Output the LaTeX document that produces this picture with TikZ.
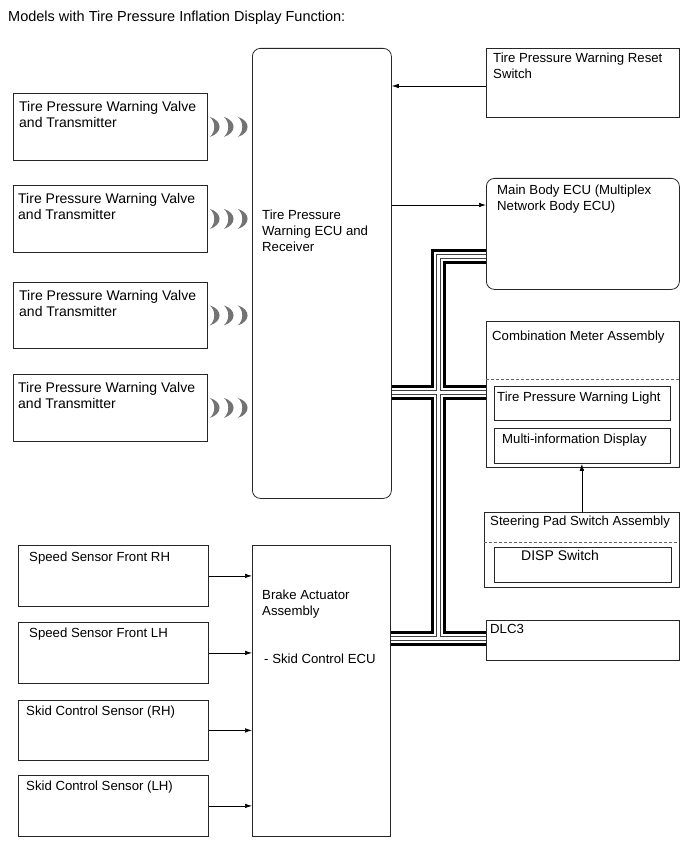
\documentclass[tikz,border=0pt]{standalone}
\usepackage{fontspec}
\setmainfont{Liberation Sans}
\usetikzlibrary{arrows.meta}

\begin{document}
\begin{tikzpicture}[x=1pt, y=-1pt,
    font=\fontsize{13.2}{16}\selectfont,
    box/.style={draw=black!85, line width=0.8pt, anchor=north west, inner sep=0pt},
    txt/.style={anchor=north west, inner sep=0pt, align=left},
    vtxt/.style={txt, font=\fontsize{14}{16.5}\selectfont},
    arr/.style={-{Latex[length=7pt,width=4.5pt]}, line width=0.7pt},
    wave/.style={fill=black!55},
    sep/.style={draw=black!60, dash pattern=on 3pt off 2pt, line width=0.7pt}]

    \useasboundingbox (0,0) rectangle (690,853);

    \node[txt, font=\fontsize{14.5}{17}\selectfont] (title) at (8,11)
    {Models with Tire Pressure Inflation Display Function:};

    \node[box, minimum width=139pt, minimum height=450pt, rounded corners=8pt] (ecu) at (252,48) {};
    \node[txt] (t-ecu) at (262,210) {Tire Pressure\\Warning ECU and\\Receiver};

    \node[box, minimum width=194pt, minimum height=67pt] (v1) at (13,93) {};
    \node[box, minimum width=194pt, minimum height=67pt] (v2) at (13,185) {};
    \node[box, minimum width=194pt, minimum height=66pt] (v3) at (13,282) {};
    \node[box, minimum width=194pt, minimum height=67pt] (v4) at (13,374) {};
    \node[vtxt] (t-v1) at (19,101) {Tire Pressure Warning Valve\\and Transmitter};
    \node[vtxt] (t-v2) at (18,193) {Tire Pressure Warning Valve\\and Transmitter};
    \node[vtxt] (t-v3) at (19,290) {Tire Pressure Warning Valve\\and Transmitter};
    \node[vtxt] (t-v4) at (18,382) {Tire Pressure Warning Valve\\and Transmitter};

    \foreach \v in {v1,v2,v3,v4}
      \foreach \dx in {2,16,30}
        \fill[wave, shift={(\v.east)}, xshift=\dx]
        (0,-10) .. controls (13,-6) and (13,6) .. (0,10)
        .. controls (6,5) and (6,-5) .. (0,-10);

    \node[box, minimum width=193pt, minimum height=69pt] (reset) at (486,48) {};
    \node[txt] (t-reset) at (493,53) {Tire Pressure Warning Reset\\Switch};

    \node[box, minimum width=193pt, minimum height=111pt, rounded corners=8pt] (mbecu) at (486,178) {};
    \node[txt] (t-mbecu) at (497,185) {Main Body ECU (Multiplex\\Network Body ECU)};

    \node[box, minimum width=193pt, minimum height=146pt] (comb) at (486,321) {};
    \node[txt] (t-comb) at (492,331) {Combination Meter Assembly};
    \draw[sep] (486,379) -- (679,379);
    \node[box, minimum width=176pt, minimum height=34pt] (tpwl) at (494,386) {};
    \node[txt] (t-tpwl) at (497,392) {Tire Pressure Warning Light};
    \node[box, minimum width=176pt, minimum height=35pt] (mid) at (494,428) {};
    \node[txt] (t-mid) at (502,434) {Multi-information Display};

    \node[box, minimum width=195pt, minimum height=75pt] (steer) at (484,512) {};
    \node[txt] (t-steer) at (490,516) {Steering Pad Switch Assembly};
    \draw[sep] (484,542) -- (679,542);
    \node[box, minimum width=177pt, minimum height=35pt] (disp) at (494,547) {};
    \node[txt, font=\fontsize{14}{16}\selectfont] (t-disp) at (521,550) {DISP Switch};

    \node[box, minimum width=193pt, minimum height=40pt] (dlc) at (486,620) {};
    \node[txt] (t-dlc) at (490,624) {DLC3};

    \node[box, minimum width=138pt, minimum height=291pt] (brake) at (252,545) {};
    \node[txt] (t-brake) at (262,590) {Brake Actuator\\Assembly\\[32pt]\hspace{2pt}- Skid Control ECU};

    \node[box, minimum width=190pt, minimum height=61pt] (s1) at (18,545) {};
    \node[box, minimum width=190pt, minimum height=61pt] (s2) at (18,622) {};
    \node[box, minimum width=190pt, minimum height=60pt] (s3) at (18,700) {};
    \node[box, minimum width=190pt, minimum height=61pt] (s4) at (18,775) {};
    \node[txt] (t-s1) at (29,552) {Speed Sensor Front RH};
    \node[txt] (t-s2) at (29,628) {Speed Sensor Front LH};
    \node[txt] (t-s3) at (26,706) {Skid Control Sensor (RH)};
    \node[txt] (t-s4) at (26,781) {Skid Control Sensor (LH)};

    \coordinate (yreset) at (0,86);
    \coordinate (ymain) at (0,205);
    \draw[arr] (reset.west |- yreset) -- (ecu.east |- yreset);
    \draw[arr] (ecu.east |- ymain) -- (mbecu.west |- ymain);
    \draw[arr] (steer.north) -- (steer.north |- mid.south);
    \foreach \s in {s1,s2,s3,s4}
      \draw[arr] (\s.east) -- (\s.east -| brake.west);

    \coordinate (btop) at (438,256);
    \coordinate (bmid) at (438,392);
    \coordinate (bbot) at (438,638);
    \foreach \w/\c in {15/black, 9/white, 5/black!75, 3/white}
      \draw[line width=\w pt, draw=\c]
      (mbecu.west |- btop) -- (btop) -- (bbot) -- (dlc.west |- bbot)
      (ecu.east |- bmid) -- (comb.west |- bmid)
      (brake.east |- bbot) -- (bbot);

  \end{tikzpicture}
\end{document}
